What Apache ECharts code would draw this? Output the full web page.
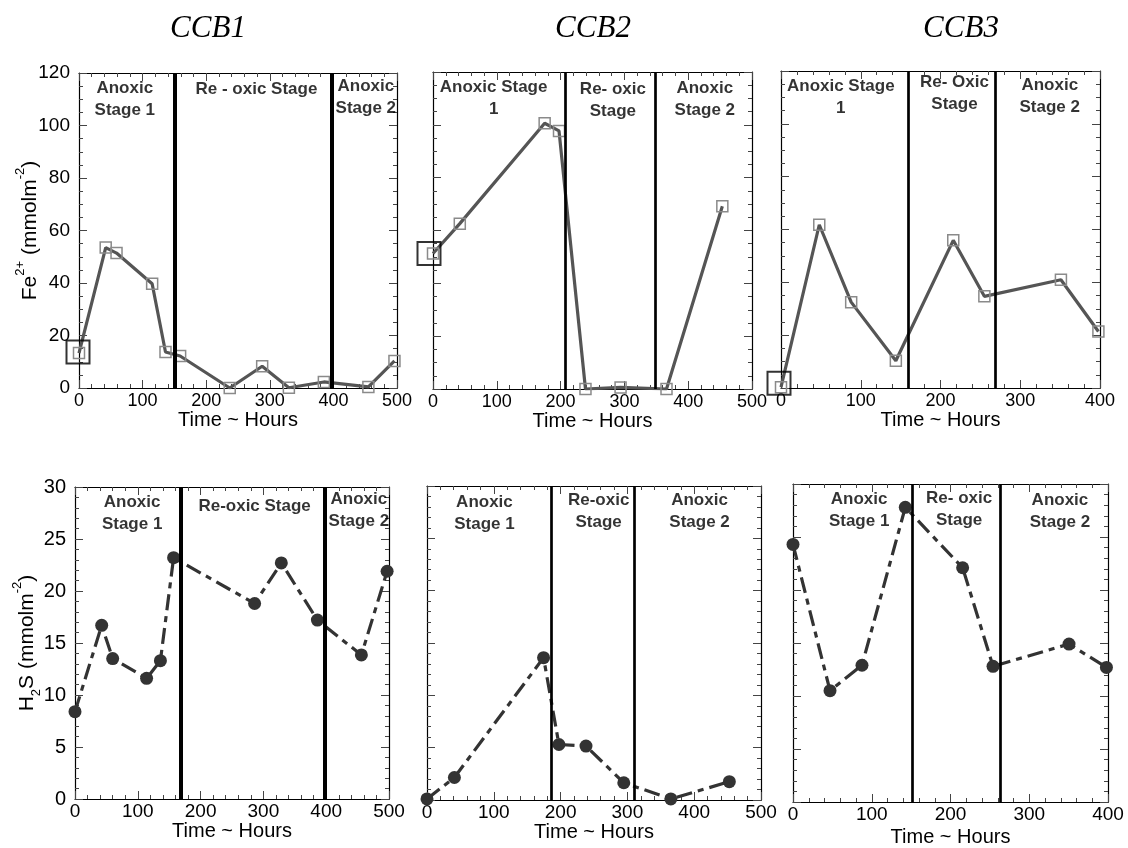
<!DOCTYPE html>
<html>
<head>
<meta charset="utf-8">
<script src="https://cdn.jsdelivr.net/npm/echarts@6/dist/echarts.min.js"></script>
<style>
  html, body { margin: 0; padding: 0; background: #fff; }
  #chart { width: 1128px; height: 848px; }
</style>
</head>
<body>
<div id="chart"></div>
<script>
// Column titles
const panelTitles = ['CCB1', 'CCB2', 'CCB3'];

// Fe2+ release (mmol m-2) against time (hours)
const feTime1 = [0, 42, 59, 115, 136, 159, 237, 288, 330, 385, 455, 496];
const fe1     = [13.3, 53.5, 51.4, 39.7, 13.7, 12.2, 0, 8.3, 0.1, 2.3, 0.4, 10.3];
const feTime2 = [0, 42, 175, 197.5, 239, 294, 366, 453.5];
const fe2     = [51.3, 62.6, 100.6, 97.7, 0, 0.6, 0, 69.2];
const feTime3 = [0, 48, 88, 144, 216, 255, 351, 398];
const fe3     = [0.3, 61.8, 32.5, 10.3, 55.9, 34.7, 41, 21.4];

// H2S (mmol m-2) against time (hours)
const h2sTime1 = [0, 42.5, 60, 114, 136, 157, 286, 328.5, 386, 456, 497];
const h2s1     = [8.4, 16.7, 13.5, 11.6, 13.3, 23.2, 18.8, 22.7, 17.2, 13.85, 21.9];
const h2sTime2 = [0, 41, 174.5, 197.5, 238, 294.6, 365, 452.6];
const h2s2     = [0.1, 2.15, 13.6, 5.3, 5.15, 1.65, 0.1, 1.75];
const h2sTime3 = [0, 47, 87.6, 142.6, 215.4, 254, 350.5, 398];
const h2s3     = [24.3, 10.5, 12.9, 27.8, 22.1, 12.8, 14.9, 12.7];

// Stage boundaries (hours)
const feStageBounds  = [[150, 397], [207, 349], [159, 269]];
const h2sStageBounds = [[168, 397], [186, 310], [151, 263]];

// Stage names
const feStageNames = [
  ['Anoxic\nStage 1', 'Re - oxic Stage', 'Anoxic\nStage 2'],
  ['Anoxic Stage\n1', 'Re- oxic\nStage', 'Anoxic\nStage 2'],
  ['Anoxic Stage\n1', 'Re- Oxic\nStage', 'Anoxic\nStage 2']
];
const h2sStageNames = [
  ['Anoxic\nStage 1', 'Re-oxic Stage', 'Anoxic\nStage 2'],
  ['Anoxic\nStage 1', 'Re-oxic\nStage', 'Anoxic\nStage 2'],
  ['Anoxic\nStage 1', 'Re- oxic\nStage', 'Anoxic\nStage 2']
];

// Axis ranges and tick steps
const timeMax = [500, 500, 400, 500, 500, 400];
const timeStep = 100;
const feMax = 120, feStep = 20;
const h2sMax = 30, h2sStep = 5;
const timeLabel = 'Time ~ Hours';

// ---- layout (pixels) ----
const grids = [
  { left: 79,  top: 73,  width: 318, height: 315 },
  { left: 433, top: 72,  width: 319, height: 317 },
  { left: 781, top: 71,  width: 319, height: 317 },
  { left: 75,  top: 487, width: 314, height: 312 },
  { left: 427, top: 486, width: 334, height: 314 },
  { left: 793, top: 484, width: 315, height: 318 }
];
const titleCenters = [203, 588, 956];
// where each stage name sits, in axis units of its own panel
const stageAnchors = [
  [[72, 110], [279, 113.8], [451, 110.9]],
  [[95, 110.1], [282, 109.3], [426, 109.8]],
  [[75, 110.1], [217.5, 111.4], [337, 110.3]],
  [[91, 27.45], [286, 28.1], [452, 27.8]],
  [[86, 27.4], [257, 27.55], [408, 27.6]],
  [[84, 27.5], [211, 27.6], [339, 27.4]]
];
const boundWidths = [4, 2.7, 2.7, 4, 2.7, 2.7];
const startBoxOffsets = [[-1, -1], [-4, 0], [-2, -4]];

const SANS = 'Liberation Sans';
const zip = (xs, ys) => xs.map((x, i) => [x, ys[i]]);

const feSets = [zip(feTime1, fe1), zip(feTime2, fe2), zip(feTime3, fe3)];
const h2sSets = [zip(h2sTime1, h2s1), zip(h2sTime2, h2s2), zip(h2sTime3, h2s3)];

const xAxes = [], yAxes = [], series = [];

function frame(split) {
  return {
    axisLine: { show: true, onZero: false, lineStyle: { color: '#000', width: 1.2 } },
    axisTick: { show: true, inside: true, length: 8, lineStyle: { color: '#444', width: 1 } },
    minorTick: { show: true, splitNumber: split, length: 4, lineStyle: { color: '#444', width: 1 } },
    splitLine: { show: false }
  };
}

for (let i = 0; i < 6; i++) {
  const top = i < 3;

  // bottom time axis with labels
  xAxes.push(Object.assign({
    gridIndex: i, type: 'value', position: 'bottom',
    min: 0, max: timeMax[i], interval: timeStep,
    axisLabel: { show: true, color: '#000', fontFamily: SANS, fontSize: top ? 18 : 19, margin: top ? 4 : 3 },
    name: timeLabel, nameLocation: 'middle', nameGap: top ? 22 : (i === 5 ? 25 : 22),
    nameMoveOverlap: false,
    nameTextStyle: { color: '#000', fontFamily: SANS, fontSize: 20 }
  }, frame(5)));
  // mirrored top axis carrying only ticks
  xAxes.push(Object.assign({
    gridIndex: i, type: 'value', position: 'top',
    min: 0, max: timeMax[i], interval: timeStep,
    axisLabel: { show: false }
  }, frame(5)));

  const yMax = top ? feMax : h2sMax;
  const yStep = top ? feStep : h2sStep;
  const ySplit = top ? 4 : 5;
  const showYLabels = (i === 0 || i === 3);
  const yName = top
    ? '{t|Fe}{sup|2+}{t| (mmolm}{sup|-2}{t|)}'
    : '{t|H}{sub|2}{t|S (mmolm}{sup|-2}{t|)}';
  yAxes.push(Object.assign({
    gridIndex: i, type: 'value', position: 'left',
    min: 0, max: yMax, interval: yStep,
    axisLabel: { show: showYLabels, color: '#000', fontFamily: SANS, fontSize: top ? 19 : 20, margin: 9 },
    name: showYLabels ? yName : '',
    nameLocation: 'middle', nameRotate: 90, nameGap: top ? 33 : 32,
    nameMoveOverlap: false,
    nameTextStyle: {
      color: '#000', fontFamily: SANS, fontSize: 21,
      rich: {
        t:   { fontFamily: SANS, fontSize: 21, color: '#000', verticalAlign: 'middle', lineHeight: 32 },
        sup: { fontFamily: SANS, fontSize: 13, color: '#000', verticalAlign: 'top', lineHeight: 32 },
        sub: { fontFamily: SANS, fontSize: 13, color: '#000', verticalAlign: 'bottom', lineHeight: 32 }
      }
    }
  }, frame(ySplit)));
  yAxes.push(Object.assign({
    gridIndex: i, type: 'value', position: 'right',
    min: 0, max: yMax, interval: yStep,
    axisLabel: { show: false }
  }, frame(ySplit)));

  const xi = 2 * i, yi = 2 * i;
  const col = i % 3;
  const pts = top ? feSets[col] : h2sSets[col];
  const bounds = top ? feStageBounds[col] : h2sStageBounds[col];
  const names = top ? feStageNames[col] : h2sStageNames[col];

  const markLine = {
    silent: true, symbol: 'none', animation: false,
    label: { show: false },
    lineStyle: { color: '#000', width: boundWidths[i], type: 'solid' },
    emphasis: { disabled: true },
    data: bounds.map(v => ({ xAxis: v }))
  };

  if (top) {
    series.push({
      type: 'line', xAxisIndex: xi, yAxisIndex: yi, data: pts,
      symbol: 'rect', symbolSize: 11, showAllSymbol: true,
      lineStyle: { color: '#555', width: 3.2 },
      itemStyle: { color: 'rgba(255,255,255,0)', borderColor: '#8a8a8a', borderWidth: 1.5 },
      emphasis: { disabled: true },
      markLine, z: 3
    });
    // selection box around the first reading
    series.push({
      type: 'scatter', xAxisIndex: xi, yAxisIndex: yi, data: [pts[0]],
      symbol: 'rect', symbolSize: 23, symbolOffset: startBoxOffsets[col],
      itemStyle: { color: 'rgba(255,255,255,0)', borderColor: '#000', borderWidth: 2 },
      emphasis: { disabled: true }, clip: false, z: 4
    });
  } else {
    series.push({
      type: 'line', xAxisIndex: xi, yAxisIndex: yi, data: pts,
      symbol: 'circle', symbolSize: 13, showAllSymbol: true,
      lineStyle: { color: '#333', width: 3.2, type: [16, 6, 6, 6] },
      itemStyle: { color: '#333' },
      emphasis: { disabled: true },
      markLine, z: 3
    });
  }

  // stage names
  series.push({
    type: 'scatter', xAxisIndex: xi, yAxisIndex: yi,
    data: names.map((n, k) => ({ name: n, value: stageAnchors[i][k] })),
    symbolSize: 1, itemStyle: { color: 'rgba(0,0,0,0)' }, silent: true,
    label: {
      show: true, position: 'inside', formatter: '{b}',
      fontFamily: SANS, fontWeight: 'bold', fontSize: 17, lineHeight: 22, color: '#000', align: 'center'
    },
    emphasis: { disabled: true }, z: 5
  });
}

const option = {
  animation: false,
  backgroundColor: '#fff',
  title: panelTitles.map((t, k) => ({
    text: t, left: titleCenters[k], top: 8, textAlign: 'center',
    textStyle: { fontFamily: 'Liberation Serif', fontStyle: 'italic', fontWeight: 'normal', fontSize: 31, color: '#000' }
  })),
  grid: grids,
  xAxis: xAxes,
  yAxis: yAxes,
  series
};

const chart = echarts.init(document.getElementById('chart'), null, { renderer: 'canvas' });
chart.setOption(option);
</script>
</body>
</html>
